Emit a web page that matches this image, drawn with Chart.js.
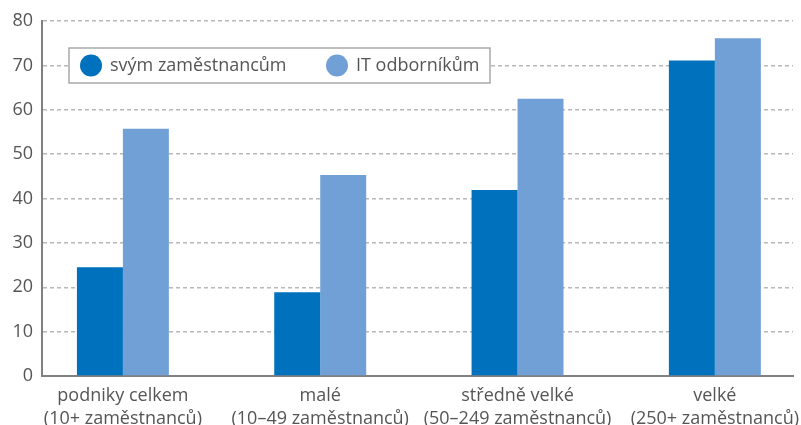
<!DOCTYPE html>
<html lang="cs">
<head>
<meta charset="utf-8">
<title>Podniky poskytující školení ICT</title>
<script src="https://cdn.jsdelivr.net/npm/chart.js@4/dist/chart.umd.min.js"></script>
<style>
  html, body { margin: 0; padding: 0; background: #fff; }
  #wrap { width: 801px; height: 425px; position: relative; }
</style>
</head>
<body>
<div id="wrap"><canvas id="chart"></canvas></div>
<script>
// kategorie podniků podle velikosti (dva řádky popisku)
const categories = [
  ['podniky celkem', '(10+ zaměstnanců)'],
  ['malé', '(10–49 zaměstnanců)'],
  ['středně velké', '(50–249 zaměstnanců)'],
  ['velké', '(250+ zaměstnanců)']
];
// podíl podniků v %, které školily ...
const svymZamestnancum = [24.5, 18.9, 41.9, 71.1];
const itOdbornikum = [55.7, 45.3, 62.5, 76.1];
const yTicks = [0, 10, 20, 30, 40, 50, 60, 70, 80];

const DARK = '#0071bc';
const LIGHT = '#70a0d5';
const TEXT = '#555555';
const FONT = '"Open Sans", "Noto Sans", sans-serif';

// legenda v rámečku uvnitř grafu
const boxLegend = {
  id: 'boxLegend',
  afterDatasetsDraw(chart) {
    const { ctx, chartArea } = chart;
    const x = chartArea.left + 27, y = chartArea.top + 27;
    const w = 421, h = 35;
    ctx.save();
    ctx.fillStyle = '#fff';
    ctx.fillRect(x, y, w, h);
    ctx.strokeStyle = '#a9a9a9';
    ctx.lineWidth = 1.5;
    ctx.strokeRect(x, y, w, h);
    ctx.font = '18px ' + FONT;
    ctx.textBaseline = 'middle';
    const items = [[22, 41], [268, 287]];
    chart.data.datasets.forEach((ds, i) => {
      const [cx, tx] = items[i];
      ctx.fillStyle = ds.backgroundColor;
      ctx.beginPath();
      ctx.arc(x + cx, y + h / 2, 11, 0, Math.PI * 2);
      ctx.fill();
      ctx.fillStyle = TEXT;
      ctx.fillText(ds.label, x + tx, y + h / 2);
    });
    ctx.restore();
  }
};

new Chart(document.getElementById('chart'), {
  type: 'bar',
  data: {
    datasets: [
      { label: 'svým zaměstnancům', data: svymZamestnancum.map((v, i) => ({ x: i, y: v })), backgroundColor: DARK },
      { label: 'IT odborníkům', data: itOdbornikum.map((v, i) => ({ x: i, y: v })), backgroundColor: LIGHT }
    ]
  },
  options: {
    responsive: true,
    maintainAspectRatio: false,
    animation: false,
    categoryPercentage: 0.466,
    barPercentage: 1,
    layout: { padding: { top: 21, right: 8, left: 0, bottom: 0 } },
    plugins: { legend: { display: false }, tooltip: { enabled: false } },
    scales: {
      x: {
        type: 'linear',
        offset: false,
        min: -0.41,
        max: 3.396,
        afterBuildTicks: axis => { axis.ticks = axis.ticks.filter(t => Number.isInteger(t.value)); },
        afterFit: axis => {
          axis.height = 49;
          // popisky smí přesahovat okraj plochy grafu
          axis.paddingLeft = 0;
          axis.paddingRight = 0;
        },
        grid: { display: false, drawTicks: false, offset: false },
        border: { display: true, color: '#808080', width: 2 },
        ticks: {
          stepSize: 1,
          includeBounds: false,
          padding: 9,
          color: TEXT,
          font: { family: FONT, size: 18, lineHeight: 1.25 },
          maxRotation: 0,
          autoSkip: false,
          callback: v => categories[v] || ''
        }
      },
      y: {
        min: 0,
        max: 80,
        afterBuildTicks: axis => { axis.ticks = yTicks.map(v => ({ value: v })); },
        afterFit: axis => { axis.width = 42; },
        grid: { color: '#b8b8b8', lineWidth: 1.5, drawTicks: false },
        border: { display: true, color: '#808080', width: 2, dash: [4, 3] },
        ticks: {
          padding: 9,
          color: TEXT,
          font: { family: FONT, size: 18 }
        }
      }
    }
  },
  plugins: [boxLegend]
});
</script>
</body>
</html>
